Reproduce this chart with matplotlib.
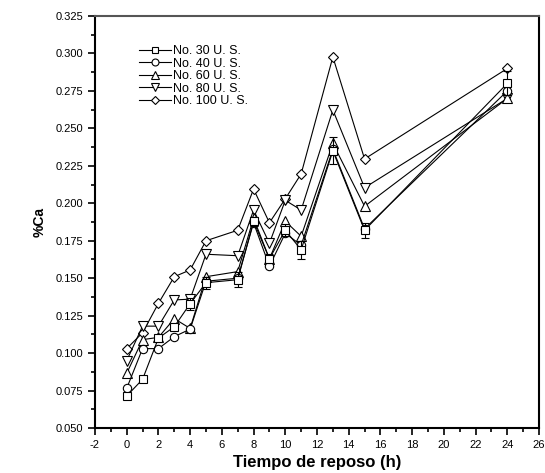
import matplotlib
matplotlib.use("Agg")
import matplotlib.pyplot as plt
from matplotlib.lines import Line2D
import numpy as np

plt.rcParams['font.family'] = ['Liberation Sans', 'DejaVu Sans']
plt.rcParams['axes.unicode_minus'] = False

horas = [0, 1, 2, 3, 4, 5, 7, 8, 9, 10, 11, 13, 15, 24]

no30 = [0.0714, 0.0825, 0.110, 0.1176, 0.133, 0.147, 0.149, 0.188, 0.163, 0.182, 0.169, 0.235, 0.182, 0.280]
no30_err = [0.0, 0.0, 0.002, 0.002, 0.004, 0.004, 0.005, 0.003, 0.003, 0.004, 0.006, 0.009, 0.005, 0.008]
no40 = [0.0765, 0.103, 0.103, 0.111, 0.116, 0.148, 0.150, 0.187, 0.158, 0.180, 0.172, 0.236, 0.183, 0.275]
no60 = [0.0865, 0.109, 0.1105, 0.123, 0.1165, 0.151, 0.1544, 0.190, 0.163, 0.188, 0.178, 0.240, 0.198, 0.270]
no80 = [0.095, 0.118, 0.118, 0.1355, 0.136, 0.166, 0.165, 0.1955, 0.1733, 0.202, 0.1955, 0.2623, 0.2104, 0.270]
no100 = [0.103, 0.1136, 0.1332, 0.151, 0.1555, 0.175, 0.182, 0.2095, 0.187, 0.203, 0.2196, 0.2977, 0.2296, 0.290]

etiquetas = ['No. 30 U. S.', 'No. 40 U. S.', 'No. 60 U. S.', 'No. 80 U. S.', 'No. 100 U. S.']

fig = plt.figure(figsize=(5.45, 4.73), dpi=100)
ax = fig.add_axes([0.1743, 0.0951, 0.8147, 0.8710])

series = [no30, no40, no60, no80, no100]
markers = ['s', 'o', '^', 'v', 'D']
sizes = [5.5, 6, 6.5, 6.5, 5.5]
handles = []
for i, (y, m, ms, lab) in enumerate(zip(series, markers, sizes, etiquetas)):
    if i == 0:
        ax.errorbar(horas, y, yerr=no30_err, color='black', lw=0.8, marker=m, ms=ms,
                    mfc='white', mec='black', mew=0.8, capsize=3, elinewidth=0.8,
                    zorder=5)
    else:
        ax.plot(horas, y, color='black', lw=0.8, marker=m, ms=ms,
                mfc='white', mec='black', mew=0.8, zorder=4 - i * 0.1)
    handles.append(Line2D([], [], color='black', lw=0.8, marker=m, ms=ms - 1,
                          mfc='white', mec='black', mew=0.8, label=lab))

ax.set_xlim(-2, 26)
ax.set_ylim(0.050, 0.325)
ax.set_xticks(np.arange(-2, 27, 2))
ax.set_xticks(np.arange(-1, 26, 2), minor=True)
ax.set_yticks(np.arange(0.050, 0.326, 0.025))
ax.set_yticks(np.arange(0.0625, 0.325, 0.025), minor=True)
ax.yaxis.set_major_formatter(matplotlib.ticker.FormatStrFormatter('%.3f'))
ax.tick_params(which='major', direction='out', length=5, width=1.2, labelsize=8)
ax.tick_params(which='minor', direction='out', length=3, width=1.2)
for s in ['left', 'bottom', 'right', 'top']:
    ax.spines[s].set_linewidth(1.5)
ax.spines['top'].set_color('#555555')

ax.set_xlabel('Tiempo de reposo (h)', fontsize=12, fontweight='bold', labelpad=4)
ax.set_ylabel('%Ca', fontsize=10, fontweight='bold', labelpad=6)

ax.legend(handles=handles, loc='upper left', bbox_to_anchor=(0.085, 0.945), frameon=False,
          fontsize=9, handlelength=2.6, handletextpad=0.1, labelspacing=0.05,
          borderpad=0)

fig.savefig('out.png', dpi=100)
